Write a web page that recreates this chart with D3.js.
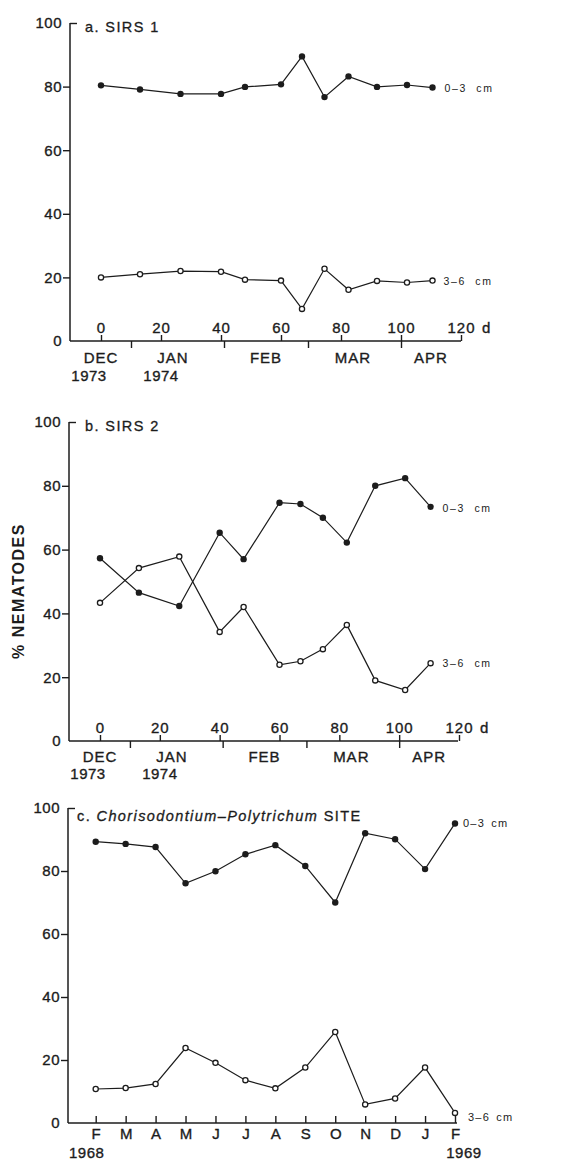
<!DOCTYPE html>
<html>
<head>
<meta charset="utf-8">
<script src="https://cdn.jsdelivr.net/npm/d3@7"></script>
<style>
  body { margin: 0; background: #fff; }
  svg text { font-family: "Liberation Sans", Arial, Helvetica, sans-serif; fill: #1c1c1c; }
</style>
</head>
<body>
<svg id="chart" width="565" height="1162"></svg>
<script>
// Data
const sirsDays = [0, 13, 26.5, 40, 48, 60, 67, 74.5, 82.5, 92, 102, 110.5]
const sirs1Top = [80.4, 79.1, 77.7, 77.7, 79.9, 80.7, 89.5, 76.7, 83.2, 79.9, 80.5, 79.7]
const sirs1Bottom = [20.0, 21.0, 22.0, 21.8, 19.3, 19.0, 10.1, 22.7, 16.1, 18.9, 18.4, 19.0]
const sirs2Top = [57.3, 46.5, 42.3, 65.3, 57.0, 74.7, 74.3, 70.0, 62.2, 80.0, 82.4, 73.4]
const sirs2Bottom = [43.3, 54.2, 57.8, 34.2, 42.0, 23.9, 25.0, 28.8, 36.4, 19.0, 16.0, 24.4]

const dayTicks = [0, 20, 40, 60, 80, 100, 120]
const monthStarts = [10, 41, 69, 100]           // day numbers of 1 Jan, 1 Feb, 1 Mar, 1 Apr
const sirsMonths = ["DEC", "JAN", "FEB", "MAR", "APR"]
const sirsMonthDays = [0, 24, 55, 84, 110]
const sirsYears = ["1973", "1974"]
const sirsYearDays = [-4, 20]

const chorMonths = ["F", "M", "A", "M", "J", "J", "A", "S", "O", "N", "D", "J", "F"]
const chorTop = [89.3, 88.6, 87.6, 76.1, 79.9, 85.3, 88.2, 81.6, 70.0, 92.0, 90.1, 80.6, 95.1]
const chorBottom = [10.8, 11.1, 12.4, 23.8, 19.1, 13.6, 11.0, 17.6, 28.9, 5.9, 7.8, 17.6, 3.2]
const chorYears = ["1968", "1969"]
const chorYearPos = [-0.3, 12.3]

const yTicks = [0, 20, 40, 60, 80, 100]
const seriesLabels = ["0\u20133 cm", "3\u20136 cm"]

const svg = d3.select("#chart")
const ink = "#1c1c1c"

function drawPanel(p) {
    const g = svg.append("g")

    const yScale = d3.scaleLinear().domain([0, 100]).range([p.bottom, p.top])
    const xScale = d3.scaleLinear().domain(p.xDomain).range(p.xRange)

    // y axis
    const yAxis = g.append("g")
        .attr("transform", `translate(${p.axisX},0)`)
        .call(d3.axisLeft(yScale).tickValues(yTicks).tickSize(7).tickPadding(1).tickSizeOuter(0))
    yAxis.select(".domain").remove()
    yAxis.selectAll(".tick line").attr("stroke", ink).attr("stroke-width", 1.4)
        .attr("x2", d => d == 100 ? 7 : (d == 0 ? 0 : -7))
    yAxis.selectAll(".tick text")
        .attr("font-size", 15).attr("letter-spacing", 0.5)
        .attr("stroke", ink).attr("stroke-width", 0.35)
        .attr("fill", ink)
    g.append("line")
        .attr("x1", p.axisX).attr("x2", p.axisX)
        .attr("y1", p.top).attr("y2", p.bottom)
        .attr("stroke", ink).attr("stroke-width", 1.5)
    g.append("line")
        .attr("x1", p.axisX).attr("x2", p.axisEnd)
        .attr("y1", p.bottom).attr("y2", p.bottom)
        .attr("stroke", ink).attr("stroke-width", 1.5)

    p.drawX(g, xScale)

    // title
    const title = g.append("text")
        .attr("x", p.titleX).attr("y", p.top + p.titleDy)
        .attr("font-size", 14.5).attr("letter-spacing", 1.4)
        .attr("stroke", ink).attr("stroke-width", 0.3)
    p.title.forEach(part => {
        title.append("tspan").attr("font-style", part.italic ? "italic" : "normal").text(part.text)
    })

    // lines
    const line = d3.line()
        .x((d, i) => xScale(p.x[i]))
        .y(d => yScale(d))

    const series = [
        { values: p.top03, filled: true, label: seriesLabels[0], off: p.labelOff[0] },
        { values: p.bot36, filled: false, label: seriesLabels[1], off: p.labelOff[1] },
    ]

    series.forEach(s => {
        g.append("path")
            .attr("d", line(s.values))
            .attr("fill", "none")
            .attr("stroke", ink)
            .attr("stroke-width", 1.2)
    })
    series.forEach(s => {
        g.selectAll(null)
            .data(s.values)
            .enter().append("circle")
            .attr("cx", (d, i) => xScale(p.x[i]))
            .attr("cy", d => yScale(d))
            .attr("r", s.filled ? 3.2 : 2.6)
            .attr("fill", s.filled ? ink : "#fff")
            .attr("stroke", ink)
            .attr("stroke-width", s.filled ? 0 : 1.3)

        const n = s.values.length - 1
        g.append("text")
            .attr("x", xScale(p.x[n]) + s.off[0])
            .attr("y", yScale(s.values[n]) + s.off[1])
            .attr("dy", "0.35em")
            .attr("font-size", p.labelSize)
            .attr("letter-spacing", p.labelSpacing)
            .attr("word-spacing", p.labelWordSpacing)
            .text(s.label)
    })
}

function sirsX(g, xScale, bottom, monthDy, yearDy) {
    const dayAxis = g.append("g")
        .attr("transform", `translate(0,${bottom})`)
        .call(d3.axisTop(xScale).tickValues(dayTicks).tickSize(6).tickPadding(2).tickSizeOuter(0)
            .tickFormat(d => d))
    dayAxis.select(".domain").remove()
    dayAxis.selectAll(".tick line").attr("stroke", ink).attr("stroke-width", 1.4)
    dayAxis.selectAll(".tick text")
        .attr("font-size", 15).attr("letter-spacing", 1)
        .attr("stroke", ink).attr("stroke-width", 0.35).attr("fill", ink)
    g.append("text")
        .attr("x", xScale(120) + 21).attr("y", bottom - 8)
        .attr("font-size", 15).attr("stroke", ink).attr("stroke-width", 0.35)
        .text("d")

    const monthAxis = g.append("g")
        .attr("transform", `translate(0,${bottom})`)
        .call(d3.axisBottom(xScale).tickValues(monthStarts).tickSize(7).tickFormat("").tickSizeOuter(0))
    monthAxis.select(".domain").remove()
    monthAxis.selectAll(".tick line").attr("stroke", ink).attr("stroke-width", 1.4)

    g.selectAll(null)
        .data(sirsMonths)
        .enter().append("text")
        .attr("x", (d, i) => xScale(sirsMonthDays[i]))
        .attr("y", bottom + monthDy)
        .attr("text-anchor", "middle")
        .attr("font-size", 15).attr("letter-spacing", 1)
        .attr("stroke", ink).attr("stroke-width", 0.35)
        .text(d => d)
    g.selectAll(null)
        .data(sirsYears)
        .enter().append("text")
        .attr("x", (d, i) => xScale(sirsYearDays[i]))
        .attr("y", bottom + yearDy)
        .attr("text-anchor", "middle")
        .attr("font-size", 15).attr("letter-spacing", 0.5)
        .attr("stroke", ink).attr("stroke-width", 0.35)
        .text(d => d)
}

function chorX(g, xScale) {
    const bottom = 1123
    const axis = g.append("g")
        .attr("transform", `translate(0,${bottom})`)
        .call(d3.axisBottom(xScale).tickValues(d3.range(chorMonths.length)).tickSize(-7).tickPadding(5)
            .tickSizeOuter(0).tickFormat(i => chorMonths[i]))
    axis.select(".domain").remove()
    axis.selectAll(".tick line").attr("stroke", ink).attr("stroke-width", 1.4)
    axis.selectAll(".tick text")
        .attr("font-size", 15)
        .attr("stroke", ink).attr("stroke-width", 0.35).attr("fill", ink)
    g.selectAll(null)
        .data(chorYears)
        .enter().append("text")
        .attr("x", (d, i) => xScale(chorYearPos[i]))
        .attr("y", bottom + 35)
        .attr("text-anchor", "middle")
        .attr("font-size", 15).attr("letter-spacing", 0.5)
        .attr("stroke", ink).attr("stroke-width", 0.35)
        .text(d => d)
}

drawPanel({
    top: 23, bottom: 341, axisX: 70, axisEnd: 461,
    xDomain: [0, 120], xRange: [101, 461],
    x: sirsDays, top03: sirs1Top, bot36: sirs1Bottom,
    title: [{ text: "a. SIRS 1" }], titleX: 85, titleDy: 9,
    labelOff: [[12, 1], [11, 1]], labelSize: 10.5, labelSpacing: 1.6, labelWordSpacing: 5,
    drawX: (g, x) => sirsX(g, x, 341, 22, 40),
})

drawPanel({
    top: 422, bottom: 741, axisX: 69, axisEnd: 458,
    xDomain: [0, 120], xRange: [100, 459],
    x: sirsDays, top03: sirs2Top, bot36: sirs2Bottom,
    title: [{ text: "b. SIRS 2" }], titleX: 85, titleDy: 9,
    labelOff: [[12, 1], [12, 0]], labelSize: 10.5, labelSpacing: 1.6, labelWordSpacing: 5,
    drawX: (g, x) => sirsX(g, x, 741, 21, 38),
})

drawPanel({
    top: 808, bottom: 1123, axisX: 68, axisEnd: 457,
    xDomain: [0, 12], xRange: [95.7, 455],
    x: d3.range(chorMonths.length), top03: chorTop, bot36: chorBottom,
    title: [{ text: "c. " }, { text: "Chorisodontium\u2013Polytrichum", italic: true }, { text: " SITE" }],
    titleX: 77, titleDy: 13,
    labelOff: [[8, 0], [13, 4]], labelSize: 11, labelSpacing: 1.2, labelWordSpacing: 2,
    drawX: chorX,
})

// shared y label
svg.append("text")
    .attr("transform", "translate(24,591) rotate(-90)")
    .attr("text-anchor", "middle")
    .attr("font-size", 16)
    .attr("font-weight", "bold")
    .attr("letter-spacing", 1.5)
    .text("% NEMATODES")
</script>
</body>
</html>
